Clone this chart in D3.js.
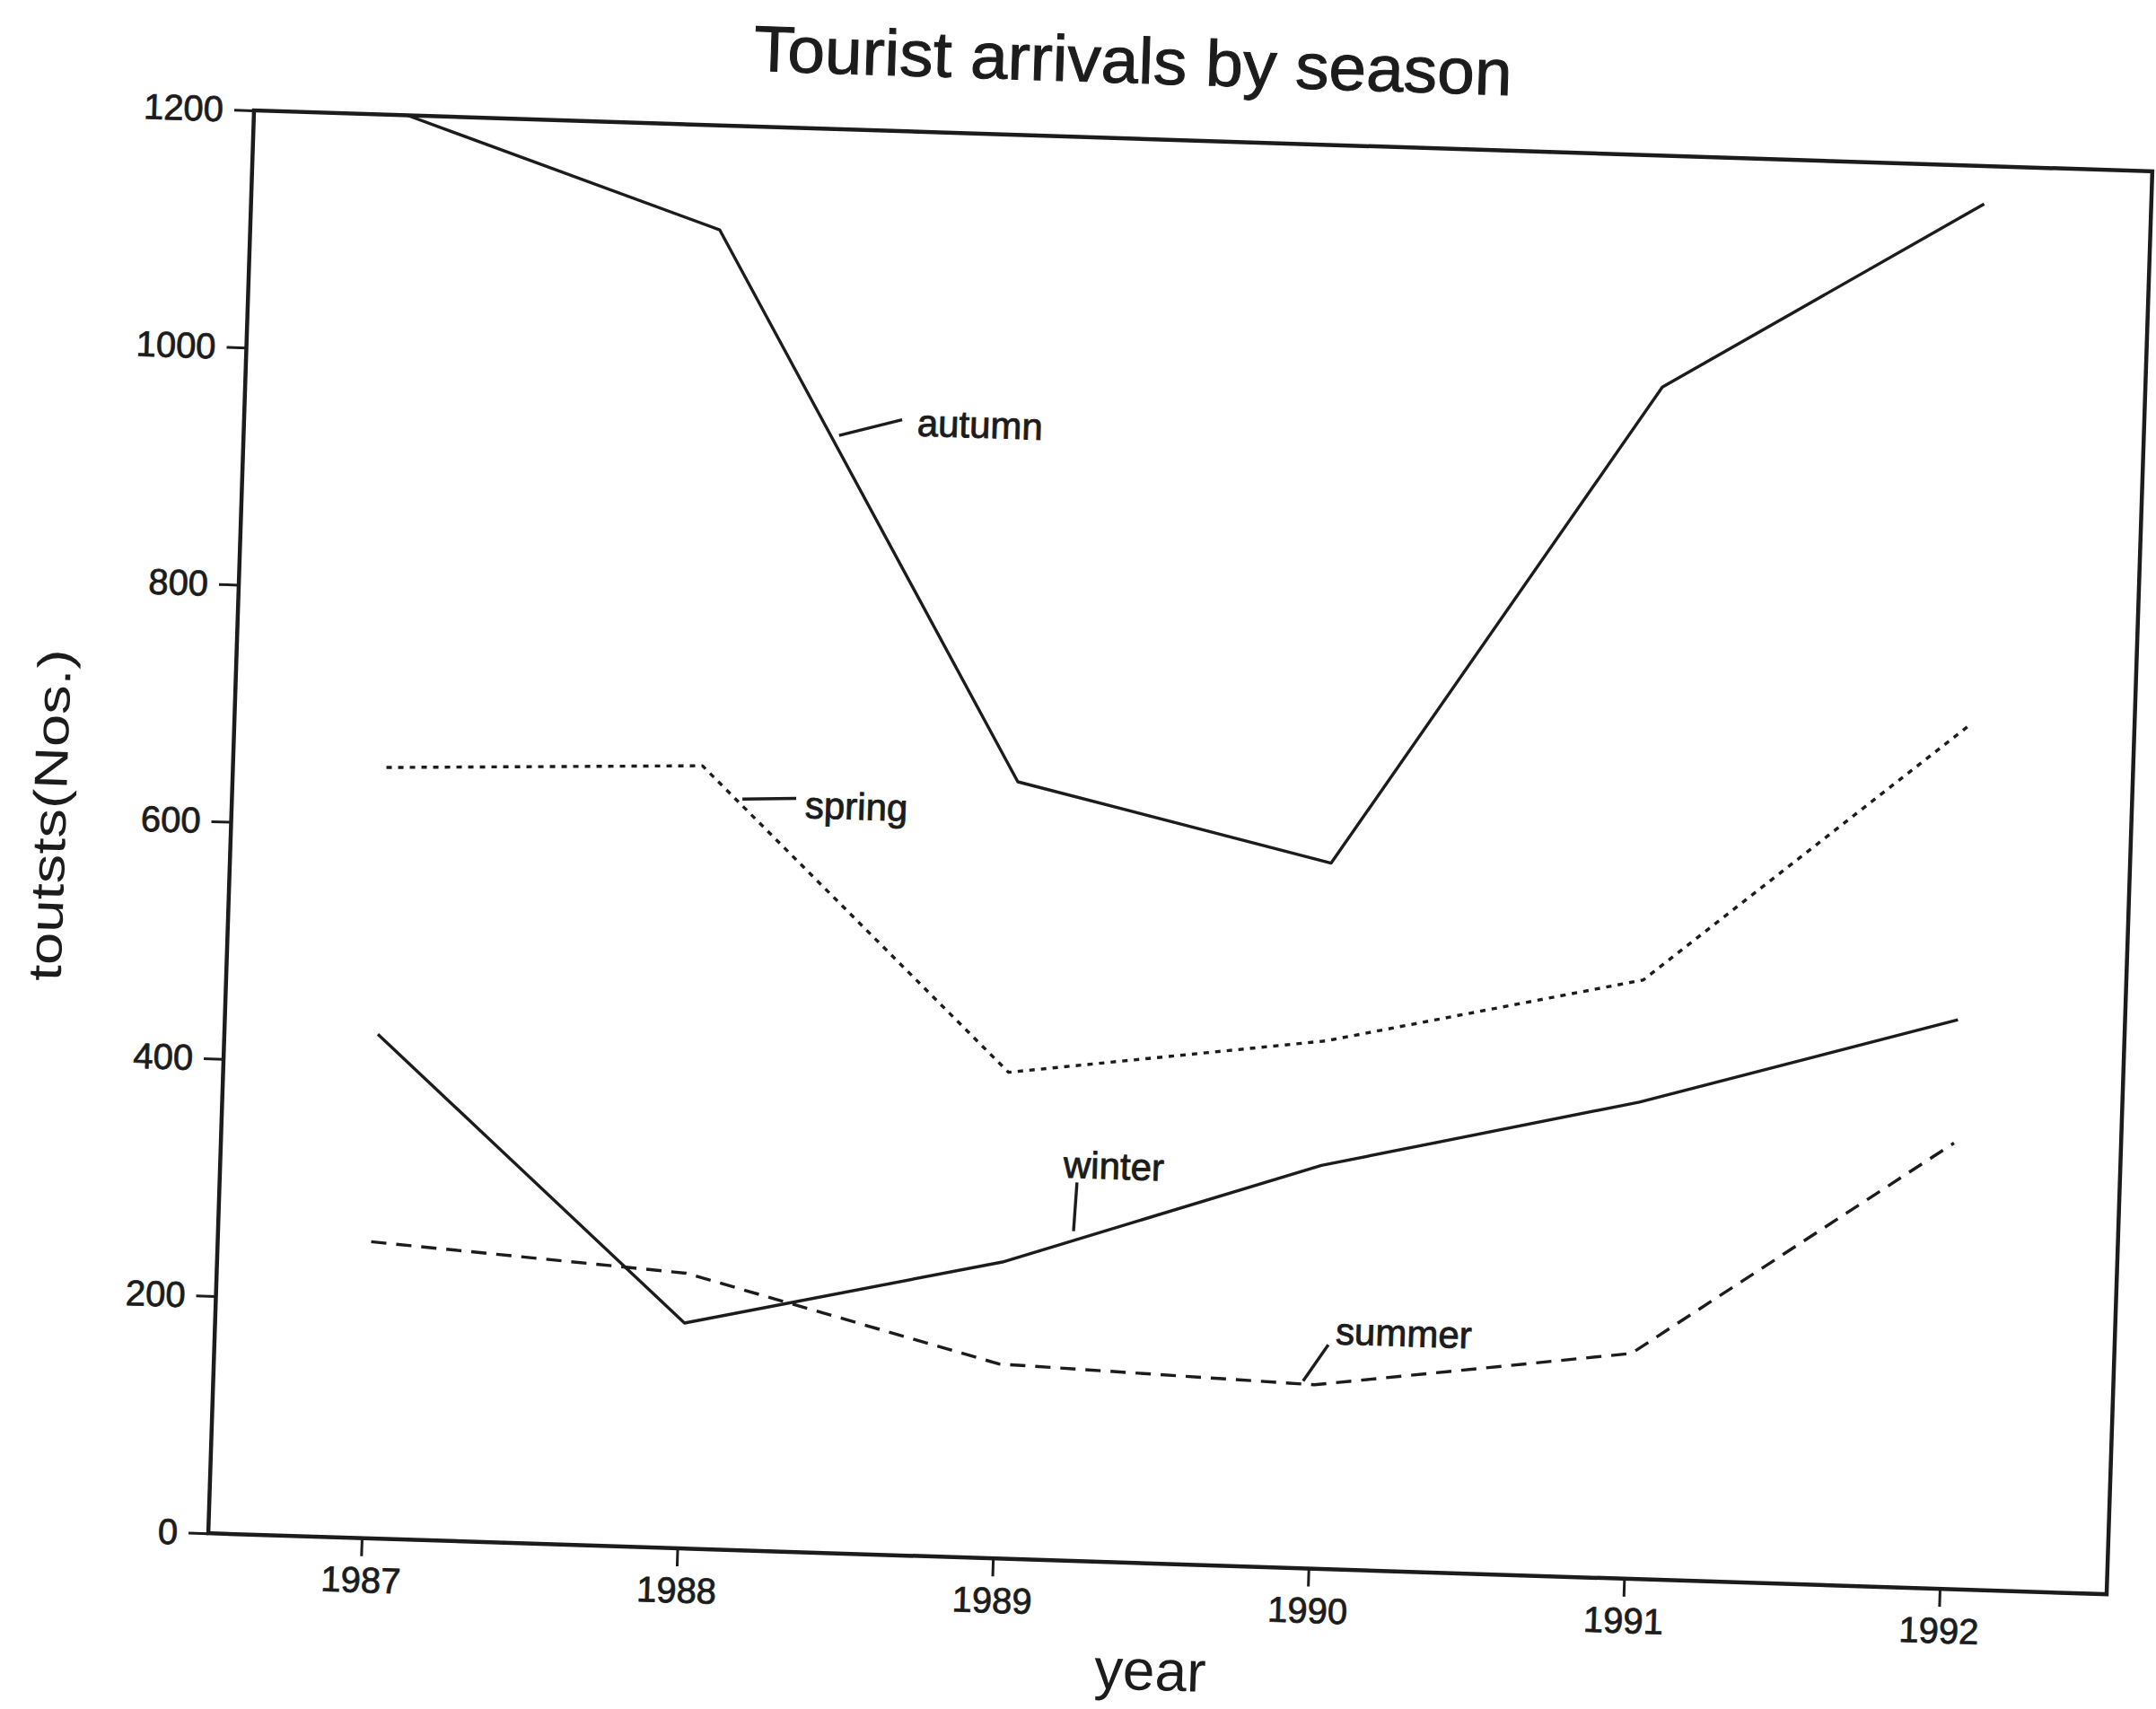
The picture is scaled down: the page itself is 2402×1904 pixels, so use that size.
<!DOCTYPE html>
<html><head><meta charset="utf-8">
<script src="https://cdn.jsdelivr.net/npm/d3@7"></script>
<style>body{margin:0;background:#fff}svg{display:block}</style>
</head><body>
<svg id="chart" width="2402" height="1904"></svg>
<script>
// ---- data ----
const years  = [1987, 1988, 1989, 1990, 1991, 1992];
const autumn = [1200, 1112, 655, 595, 1005, 1168];
const spring = [650, 660, 410, 445, 505, 727];
const winter = [425, 190, 250, 340, 402, 480];
const summer = [250, 232, 164, 155, 190, 376];
const yTicks = [0, 200, 400, 600, 800, 1000, 1200];
const title = "Tourist arrivals by season";
const xLabel = "year";
const yLabel = "toutsts(Nos.)";

// ---- layout ----
const W = 2116, H = 1586, ANGLE = 1.84, ORIGIN = [283, 123];
const ink = "#1c1c1c";
const font = "'Liberation Sans', Arial, Helvetica, sans-serif";

const svg = d3.select("#chart");
const g = svg.append("g")
  .attr("transform", `translate(${ORIGIN[0]},${ORIGIN[1]}) rotate(${ANGLE})`);

const x = d3.scaleLinear().domain([1986.514, 1992.529]).range([0, W]);
const y = d3.scaleLinear().domain([0, 1200]).range([H, 0]);

// frame
g.append("rect").attr("x", 0).attr("y", 0).attr("width", W).attr("height", H)
  .attr("fill", "none").attr("stroke", ink).attr("stroke-width", 4.5);

// axes
const xAxis = g.append("g").attr("transform", `translate(0,${H})`)
  .call(d3.axisBottom(x).tickValues(years).tickFormat(d3.format("d")).tickSize(20).tickPadding(12));
const yAxis = g.append("g")
  .call(d3.axisLeft(y).tickValues(yTicks).tickFormat(d3.format("d")).tickSize(22).tickPadding(12));
[xAxis, yAxis].forEach(a => {
  a.select(".domain").remove();
  a.selectAll(".tick line").attr("stroke", ink).attr("stroke-width", 3);
  a.selectAll(".tick text").attr("fill", ink).attr("font-family", font)
    .attr("font-size", 40).attr("stroke", ink).attr("stroke-width", 0.8);
});

// series
const series = [
  {name: "autumn", values: autumn, dash: null},
  {name: "spring", values: spring, dash: "6,7"},
  {name: "winter", values: winter, dash: null},
  {name: "summer", values: summer, dash: "17,11"}
];
const line = d3.line().x(d => x(d[0])).y(d => y(d[1]));
g.selectAll("path.series").data(series).join("path")
  .attr("class", "series")
  .attr("d", s => line(years.map((yr, i) => [yr, s.values[i]])))
  .attr("fill", "none").attr("stroke", ink).attr("stroke-width", 3.4)
  .attr("stroke-linejoin", "round")
  .attr("stroke-dasharray", s => s.dash);

// annotations (leader line in data units, label anchor in data units)
const notes = [
  {text: "autumn", from: [1988.399, 942], to: [1988.597, 957], at: [1988.645, 955]},
  {text: "spring", from: [1988.13, 633], to: [1988.30, 635], at: [1988.329, 630]},
  {text: "winter", from: [1989.222, 278], to: [1989.228, 319], at: [1989.184, 334]},
  {text: "summer", from: [1989.964, 158], to: [1990.040, 189], at: [1990.062, 201]}
];
g.selectAll("line.leader").data(notes).join("line")
  .attr("class", "leader")
  .attr("x1", d => x(d.from[0])).attr("y1", d => y(d.from[1]))
  .attr("x2", d => x(d.to[0])).attr("y2", d => y(d.to[1]))
  .attr("stroke", ink).attr("stroke-width", 3.4);
g.selectAll("text.note").data(notes).join("text")
  .attr("class", "note")
  .attr("x", d => x(d.at[0])).attr("y", d => y(d.at[1]))
  .attr("dy", "0.35em")
  .attr("font-family", font).attr("font-size", 42).attr("fill", ink)
  .attr("stroke", ink).attr("stroke-width", 0.9)
  .text(d => d.text);

// axis titles
g.append("text")
  .attr("x", x(1989.509)).attr("y", H + 141)
  .attr("text-anchor", "middle")
  .attr("font-family", font).attr("font-size", 64).attr("fill", ink)
  .text(xLabel);
g.append("text")
  .attr("transform", `translate(-198,792) rotate(-90)`)
  .attr("text-anchor", "middle").attr("dominant-baseline", "middle")
  .attr("font-family", font).attr("font-size", 52).attr("fill", ink)
  .attr("textLength", 370).attr("lengthAdjust", "spacingAndGlyphs")
  .text(yLabel);

// title
g.append("text")
  .attr("x", 977).attr("y", -62)
  .attr("text-anchor", "middle")
  .attr("font-family", font).attr("font-size", 72).attr("fill", ink)
  .attr("stroke", ink).attr("stroke-width", 1)
  .attr("textLength", 845).attr("lengthAdjust", "spacingAndGlyphs")
  .text(title);
</script>
</body></html>
